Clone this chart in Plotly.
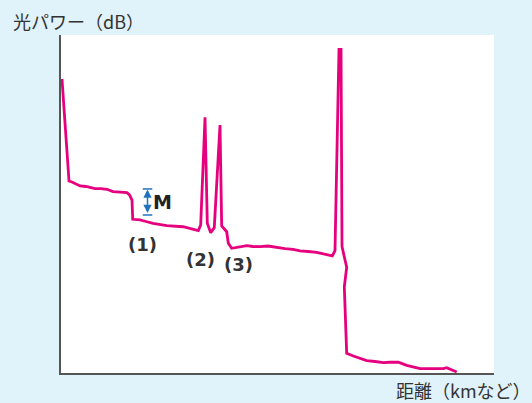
import plotly.graph_objects as go

# Distance (arbitrary km-like units) and optical power (dB, arbitrary origin)
distance = [0.23, 1.85, 2.54, 4.39, 5.77, 6.70, 7.85, 9.24, 10.62, 12.01, 13.63, 15.24, 15.82, 16.40,
            16.56, 18.24, 19.63, 21.25, 24.41, 28.18, 31.71, 32.26, 33.26, 33.79, 34.57, 35.40, 36.72,
            37.11, 38.27, 38.64, 39.42, 41.34, 42.89, 44.34, 45.96, 47.81, 49.65, 51.73, 53.58, 55.20,
            57.04, 59.05, 62.66, 63.28, 64.20, 64.67, 64.90, 65.98, 65.43, 65.98, 67.51, 69.05, 70.60,
            72.52, 74.43, 75.98, 77.90, 79.84, 82.91, 88.29, 89.08, 91.39]
power = [34.79, 22.72, 22.60, 22.13, 22.07, 21.98, 21.81, 21.83, 21.74, 21.46, 21.42, 21.34, 21.07, 20.47,
         18.19, 18.11, 17.93, 17.72, 17.43, 17.31, 16.86, 17.51, 30.26, 17.72, 16.60, 17.20, 29.35,
         17.40, 16.72, 15.35, 14.76, 14.95, 15.07, 14.97, 14.95, 15.03, 14.85, 14.73, 14.62, 14.44,
         14.38, 14.28, 13.85, 14.47, 38.31, 38.31, 14.95, 12.51, 10.21, 2.33, 2.01, 1.78, 1.46,
         1.36, 1.22, 1.27, 1.27, 0.91, 0.51, 0.51, 0.63, 0.12]

event_labels = ["(1)", "(2)", "(3)"]
event_x = [18.80, 32.30, 41.05]
event_y = [15.25, 13.40, 12.85]

m_x = 19.98
m_top = 21.78
m_bottom = 18.70
m_cap_half = 1.1

x_title = "距離（kmなど）"
y_title = "光パワー（dB）"

BG = "#e0f2fa"
LINE = "#e6007e"
BLUE = "#1f73bd"
TXT = "#333333"

fig = go.Figure()
fig.add_trace(go.Scatter(x=distance, y=power, mode="lines",
                         line=dict(color=LINE, width=2.8), hoverinfo="skip"))

annotations = []
for t, x, y in zip(event_labels, event_x, event_y):
    annotations.append(dict(x=x, y=y, xref="x", yref="y", text="<b>" + t + "</b>", showarrow=False,
                            font=dict(family="DejaVu Sans", size=18, color=TXT),
                            xanchor="center", yanchor="middle"))
annotations.append(dict(x=m_x + 0.9, y=(m_top + m_bottom) / 2, xref="x", yref="y", text="<b>M</b>",
                        showarrow=False, xanchor="left", yanchor="middle",
                        font=dict(family="DejaVu Sans", size=19, color="#222222")))
annotations.append(dict(x=m_x, y=m_top - 0.05, ax=m_x, ay=m_bottom + 0.05, xref="x", yref="y",
                        axref="x", ayref="y", text="", showarrow=True, arrowhead=2,
                        arrowside="end+start", arrowsize=1.1, arrowwidth=1.5, arrowcolor=BLUE))
annotations.append(dict(x=1.09, y=-0.05, xref="paper", yref="paper", text=x_title, showarrow=False,
                        xanchor="right", yanchor="middle",
                        font=dict(family="Noto Sans CJK JP", size=18, color=TXT)))
annotations.append(dict(x=-0.115, y=1.041, xref="paper", yref="paper", text=y_title, showarrow=False,
                        xanchor="left", yanchor="middle",
                        font=dict(family="Noto Sans CJK JP", size=18, color=TXT)))

shapes = []
for yy in (m_top, m_bottom):
    shapes.append(dict(type="line", xref="x", yref="y", x0=m_x - m_cap_half, x1=m_x + m_cap_half,
                       y0=yy, y1=yy, line=dict(color=BLUE, width=1.5)))

fig.update_layout(
    width=532, height=403,
    margin=dict(l=61, r=38, t=35, b=30),
    paper_bgcolor=BG, plot_bgcolor="white",
    showlegend=False,
    annotations=annotations, shapes=shapes,
    xaxis=dict(range=[0, 100], showgrid=False, zeroline=False, showticklabels=False, ticks="",
               showline=True, linecolor="#555555", linewidth=1.5, fixedrange=True),
    yaxis=dict(range=[0, 40], showgrid=False, zeroline=False, showticklabels=False, ticks="",
               showline=True, linecolor="#555555", linewidth=1.5, fixedrange=True),
)

fig.write_html("out.html", config={"displayModeBar": False},
               post_script="document.body.style.margin='0';document.body.style.overflow='hidden';"
                           "document.body.style.background='" + BG + "';")
